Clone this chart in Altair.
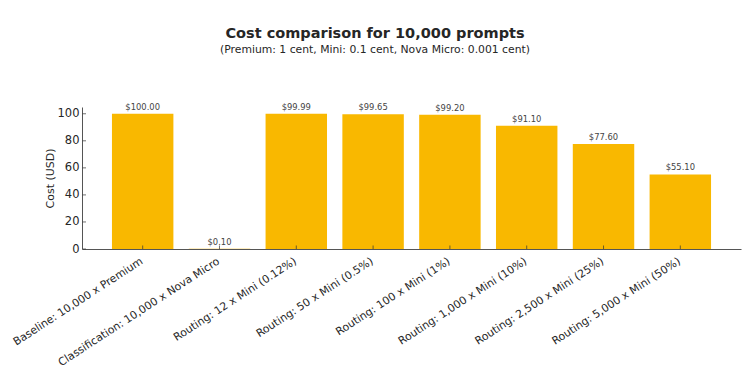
import altair as alt
import pandas as pd

categories = [
    "Baseline: 10,000 x Premium",
    "Classification: 10,000 x Nova Micro",
    "Routing: 12 x Mini (0.12%)",
    "Routing: 50 x Mini (0.5%)",
    "Routing: 100 x Mini (1%)",
    "Routing: 1,000 x Mini (10%)",
    "Routing: 2,500 x Mini (25%)",
    "Routing: 5,000 x Mini (50%)",
]
costs = [100.00, 0.10, 99.99, 99.65, 99.20, 91.10, 77.60, 55.10]
y_ticks = [0, 20, 40, 60, 80, 100]

df = pd.DataFrame({"label": categories, "cost": costs})
ticks_df = pd.DataFrame({"cost": y_ticks})

FONT = "DejaVu Sans"
BAR = "#F9B800"

x_scale = alt.Scale(paddingInner=0.2, paddingOuter=0.39)
y_scale = alt.Scale(domain=[0, 105], nice=False, zero=True)

x_axis = alt.Axis(
    labelAngle=327,
    labelAlign="right",
    labelBaseline="top",
    labelFontSize=10.8,
    labelColor="#262626",
    labelFont=FONT,
    labelLimit=400,
    labelPadding=6,
    labelOffset=-4,
    tickSize=0,
    domainColor="#555555",
    domainWidth=1,
    grid=False,
)
y_axis = alt.Axis(
    values=y_ticks,
    labelOverlap=False,
    labelFontSize=11.5,
    labelColor="#262626",
    labelFont=FONT,
    labelPadding=3,
    tickSize=0,
    domainColor="#555555",
    domainWidth=1,
    grid=False,
    titleFont=FONT,
    titleFontSize=11,
    titleFontWeight="normal",
    titleColor="#262626",
    titlePadding=2,
)


def xe():
    return alt.X("label:N", sort=categories, title=None, scale=x_scale, axis=x_axis)


def ye(field="cost:Q"):
    return alt.Y(field, title="Cost (USD)", scale=y_scale, axis=y_axis)


bars = alt.Chart(df).mark_bar(color=BAR).encode(x=xe(), y=ye())

labels = alt.Chart(df).mark_text(
    baseline="bottom", dy=-2, fontSize=8.4, font=FONT, color="#444444"
).encode(
    x=xe(),
    y=ye(),
    text=alt.Text("cost:Q", format="$.2f"),
)

xticks = alt.Chart(df).mark_tick(
    orient="vertical", size=3.5, thickness=1, yOffset=-1.75, color="#333333"
).encode(
    x=xe(),
    y=ye("z:Q"),
).transform_calculate(z="0")

yticks = alt.Chart(ticks_df).mark_tick(
    orient="horizontal", size=3.5, thickness=1, color="#333333"
).encode(
    y=ye(),
    x=alt.value(2.25),
)

chart = (
    alt.layer(bars, labels, xticks, yticks)
    .properties(
        width=659,
        height=142,
        autosize=alt.AutoSizeParams(type="none"),
        padding={"left": 82, "top": 107, "right": 9, "bottom": 126},
        background="white",
        title=alt.TitleParams(
            text="Cost comparison for 10,000 prompts",
            subtitle="(Premium: 1 cent, Mini: 0.1 cent, Nova Micro: 0.001 cent)",
            font=FONT,
            fontSize=14.5,
            fontWeight="bold",
            color="#262626",
            subtitleFont=FONT,
            subtitleFontSize=10.8,
            subtitleColor="#262626",
            subtitlePadding=2,
            anchor="middle",
            offset=47,
            dx=-36.5,
        ),
    )
    .configure_view(strokeWidth=0, stroke=None)
)

chart.save("out.html", embed_options={"renderer": "svg", "actions": False})
